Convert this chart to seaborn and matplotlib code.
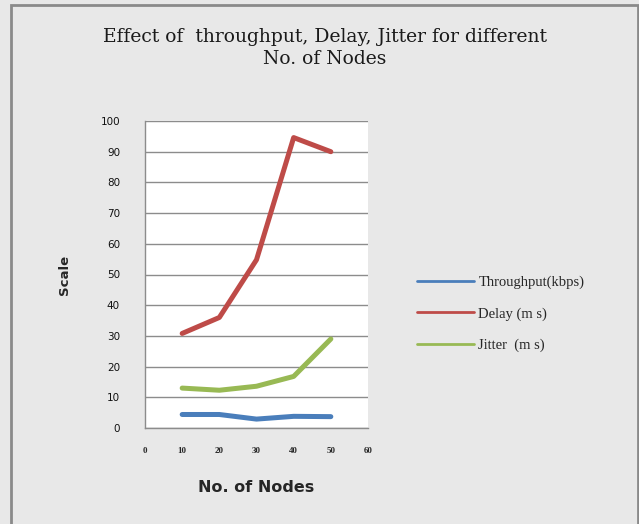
import pandas as pd
import matplotlib.pyplot as plt
import seaborn as sns
from matplotlib.patches import Rectangle

# values
nodes = [10, 20, 30, 40, 50]
throughput = [4.4, 4.4, 2.9, 3.8, 3.7]
delay = [30.8, 36.0, 54.8, 94.6, 90.0]
jitter = [13.0, 12.3, 13.6, 16.8, 29.0]

series_names = ['Throughput(kbps)', 'Delay (m s)', 'Jitter  (m s)']
colors = ['#4a7ebb', '#be4b48', '#98b954']
x_ticks = [0, 10, 20, 30, 40, 50, 60]
y_ticks = [0, 10, 20, 30, 40, 50, 60, 70, 80, 90, 100]

df = pd.DataFrame({
    'nodes': nodes * 3,
    'value': throughput + delay + jitter,
    'series': [s for s in series_names for _ in nodes],
})

sns.set_style("white")
plt.rcParams['font.family'] = ['DejaVu Sans']

bg = '#e8e8e8'
fig = plt.figure(figsize=(6.39, 5.24), dpi=100)
fig.patch.set_facecolor(bg)
fig.patches.append(Rectangle((11 / 639, -0.01), (638 - 11) / 639, 1.01 - 5 / 524,
                             transform=fig.transFigure, fill=False,
                             edgecolor='#8a8a8a', linewidth=2))

ax = fig.add_axes([145 / 639, 1 - 428 / 524, (368 - 145) / 639, (428 - 121) / 524])
ax.set_facecolor('white')

sns.lineplot(
    ax=ax,
    data=df,
    x='nodes',
    y='value',
    hue='series',
    palette=dict(zip(series_names, colors)),
    linewidth=3.6,
    legend=False,
)

ax.set_xlim(0, 60)
ax.set_ylim(0, 100)
ax.set_xticks(x_ticks)
ax.set_yticks(y_ticks)
ax.set_xticklabels([str(t) for t in x_ticks], fontsize=6.5, fontweight='bold',
                   family='Liberation Serif')
ax.set_yticklabels([str(t) for t in y_ticks], fontsize=7.5, color='#111111')
ax.tick_params(axis='x', length=0, pad=14)
ax.tick_params(axis='y', length=0, pad=18)
ax.grid(axis='y', color='#8c8c8c', linewidth=1)
ax.set_axisbelow(True)
for side in ['top', 'right']:
    ax.spines[side].set_visible(False)
for side in ['left', 'bottom']:
    ax.spines[side].set_color('#8c8c8c')
    ax.spines[side].set_linewidth(1)

ax.set_xlabel('No. of Nodes', fontsize=11.5, fontweight='bold', labelpad=18)
ax.set_ylabel('Scale', fontsize=9.5, fontweight='bold', labelpad=21)

fig.text(325 / 639, 1 - 48 / 524,
         'Effect of  throughput, Delay, Jitter for different\nNo. of Nodes',
         ha='center', va='center', fontsize=13.5, family='DejaVu Serif',
         linespacing=1.25, color='#1a1a1a')

handles = [plt.Line2D([], [], color=c, linewidth=2) for c in colors]
fig.legend(handles, series_names, loc='center left',
           bbox_to_anchor=(404 / 639, 1 - 314 / 524), frameon=False,
           prop={'family': 'Liberation Serif', 'size': 10.5},
           handlelength=3.9, handletextpad=0.3, labelspacing=1.25)

plt.savefig('out.png', dpi=100, facecolor=bg)
